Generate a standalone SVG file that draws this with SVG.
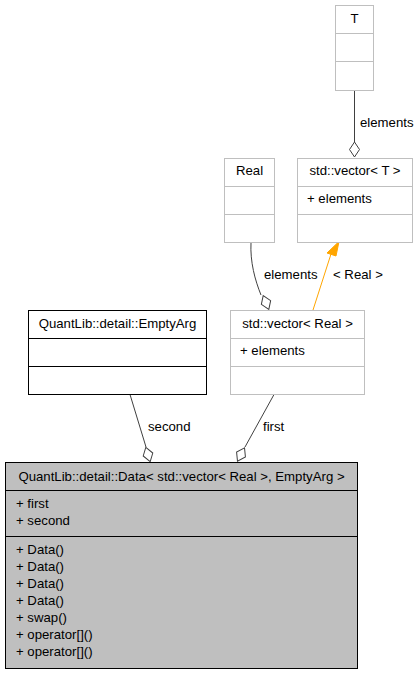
<svg xmlns="http://www.w3.org/2000/svg" width="417" height="675" viewBox="0 0 417 675">
<style>
text{font-family:"Liberation Sans",Arial,sans-serif;font-size:13.2px;fill:#000}
.c{text-anchor:middle}
.box{fill:#fff;stroke:#bfbfbf;stroke-width:1}
.dark{fill:#fff;stroke:#000;stroke-width:1}
.main{fill:#bfbfbf;stroke:#000;stroke-width:1}
.gl{stroke:#bfbfbf;stroke-width:1}
.bl{stroke:#000;stroke-width:1}
.e{fill:none;stroke:#404040;stroke-width:1}
.d{fill:#fff;stroke:#404040;stroke-width:1}
</style>
<rect width="417" height="675" fill="#fff"/>
<g id="connectors">
  <path class="e" d="M354.5,90.5 L354.5,142"/>
  <polygon class="d" points="354.5,142 349.5,149.5 354.5,157 359.5,149.5"/>
  <text x="360" y="127">elements</text>
  <path class="e" d="M251,242.5 C250,262 255,280 261,295"/>
  <polygon class="d" transform="rotate(-22 266 302.5)" points="266,295 261,302.5 266,310 271,302.5"/>
  <text x="264" y="279">elements</text>
  <path d="M313,310 L331,254" fill="none" stroke="#ffa500" stroke-width="1"/>
  <polygon points="339,241.5 327,253 336,256" fill="#ffa500" stroke="#ffa500"/>
  <text x="333" y="279">&lt; Real &gt;</text>
  <path class="e" d="M130,394.5 L146,447"/>
  <polygon class="d" transform="rotate(-17 148 454.5)" points="148,447 143,454.5 148,462 153,454.5"/>
  <text x="148" y="431">second</text>
  <path class="e" d="M274,394.5 L245,447"/>
  <polygon class="d" transform="rotate(28 241 454.5)" points="241,447 236,454.5 241,462 246,454.5"/>
  <text x="263" y="431">first</text>
</g>
<g id="node-T">
  <rect class="box" x="335.5" y="5.5" width="38" height="85"/>
  <line class="gl" x1="335.5" y1="33.5" x2="373.5" y2="33.5"/>
  <line class="gl" x1="335.5" y1="61.5" x2="373.5" y2="61.5"/>
  <text class="c" x="354.5" y="23">T</text>
</g>
<g id="node-vectorT">
  <rect class="box" x="297.5" y="158.5" width="115" height="84"/>
  <line class="gl" x1="297.5" y1="186.5" x2="412.5" y2="186.5"/>
  <line class="gl" x1="297.5" y1="214.5" x2="412.5" y2="214.5"/>
  <text class="c" x="355" y="175">std::vector&lt; T &gt;</text>
  <text x="307" y="203">+ elements</text>
</g>
<g id="node-Real">
  <rect class="box" x="224.5" y="158.5" width="50" height="84"/>
  <line class="gl" x1="224.5" y1="186.5" x2="274.5" y2="186.5"/>
  <line class="gl" x1="224.5" y1="214.5" x2="274.5" y2="214.5"/>
  <text class="c" x="249.5" y="175">Real</text>
</g>
<g id="node-vectorReal">
  <rect class="box" x="230.5" y="310.5" width="134" height="84"/>
  <line class="gl" x1="230.5" y1="338.5" x2="364.5" y2="338.5"/>
  <line class="gl" x1="230.5" y1="366.5" x2="364.5" y2="366.5"/>
  <text class="c" x="297.5" y="327.5">std::vector&lt; Real &gt;</text>
  <text x="240" y="355">+ elements</text>
</g>
<g id="node-EmptyArg">
  <rect class="dark" x="28.5" y="310.5" width="178" height="84"/>
  <line class="bl" x1="28.5" y1="338.5" x2="206.5" y2="338.5"/>
  <line class="bl" x1="28.5" y1="366.5" x2="206.5" y2="366.5"/>
  <text class="c" x="117.5" y="327.5">QuantLib::detail::EmptyArg</text>
</g>
<g id="node-Data">
  <rect class="main" x="5.5" y="462.5" width="352" height="206"/>
  <line class="bl" x1="5.5" y1="490.5" x2="357.5" y2="490.5"/>
  <line class="bl" x1="5.5" y1="536.5" x2="357.5" y2="536.5"/>
  <text class="c" x="181.5" y="481">QuantLib::detail::Data&lt; std::vector&lt; Real &gt;, EmptyArg &gt;</text>
  <text x="16" y="507.5">+ first</text>
  <text x="16" y="524.5">+ second</text>
  <text x="16" y="553.5">+ Data()</text>
  <text x="16" y="570.5">+ Data()</text>
  <text x="16" y="587.5">+ Data()</text>
  <text x="16" y="604.5">+ Data()</text>
  <text x="16" y="621.5">+ swap()</text>
  <text x="16" y="638.5">+ operator[]()</text>
  <text x="16" y="655.5">+ operator[]()</text>
</g>
</svg>
